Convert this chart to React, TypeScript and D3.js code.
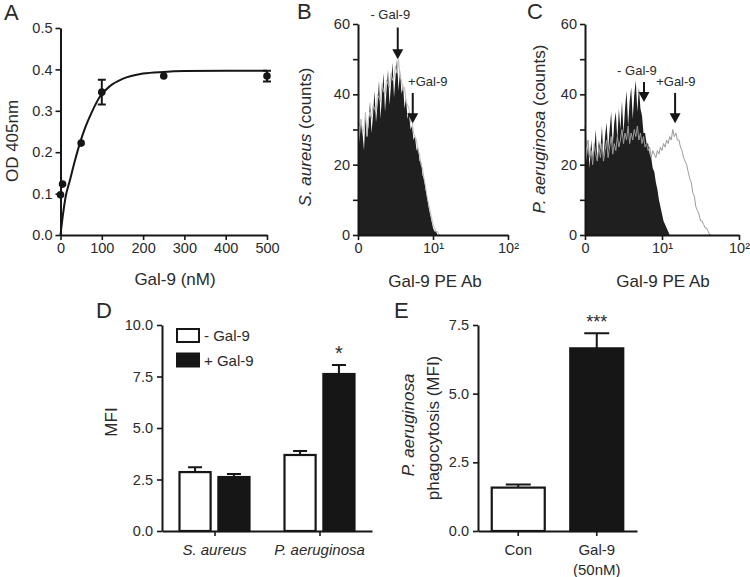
import React, { useEffect, useRef } from 'react';
import * as d3 from 'd3';

// ---- Panel A: binding curve ----
const doseNm = [0, 5, 50, 100, 250, 500];
const odMean = [0.097, 0.123, 0.222, 0.345, 0.384, 0.384];
const odErr = [0, 0, 0, 0.03, 0, 0.013];
// fitted curve
const fitNm = [0, 6, 12, 23, 35, 47, 60, 75, 96, 120, 150, 200, 250, 300, 400, 500];
const fitOd = [0, 0.05, 0.09, 0.133, 0.18, 0.222, 0.26, 0.295, 0.335, 0.36, 0.377, 0.39, 0.394, 0.396, 0.397, 0.397];

// ---- Panels B/C: flow histograms (counts per channel, channel step in log10 units) ----
const histStep = 0.02;
const saMinus = [35, 26, 33, 29, 24, 34, 28, 31, 38, 29, 34, 41, 32, 37, 44, 33, 40, 46, 35, 41, 47, 37, 43, 49, 39, 45, 50, 41, 47, 40, 43, 36, 39, 33, 35, 30, 31, 27, 28, 24, 25, 21, 21, 17, 16, 13, 11, 8, 6, 4, 2, 1, 1, 0, 0, 0];
const saPlus = [32, 31, 33, 29, 30, 35, 28, 33, 35, 33, 37, 36, 35, 40, 39, 38, 43, 41, 40, 44, 43, 42, 46, 44, 45, 48, 46, 50, 45, 44, 41, 42, 38, 37, 36, 32, 33, 29, 28, 27, 24, 23, 20, 19, 16, 14, 11, 9, 7, 5, 3, 2, 1, 1, 0, 0];
const paMinus = [28, 21, 26, 19, 27, 22, 24, 30, 21, 27, 24, 31, 22, 28, 32, 24, 30, 35, 25, 32, 35, 27, 36, 30, 38, 29, 36, 41, 31, 38, 42, 33, 40, 44, 35, 42, 36, 34, 29, 29, 26, 26, 23, 22, 19, 18, 15, 13, 10, 8, 6, 4, 3, 2, 1, 0];
const paPlus = [31, 25, 27, 22, 24, 20, 26, 23, 21, 25, 22, 26, 21, 24, 27, 22, 25, 28, 23, 26, 24, 28, 25, 27, 30, 26, 29, 27, 31, 26, 29, 27, 30, 28, 31, 27, 29, 26, 28, 25, 26, 24, 25, 22, 24, 23, 22, 24, 23, 25, 24, 26, 25, 27, 26, 28, 27, 30, 28, 29, 27, 27, 25, 24, 22, 21, 20, 18, 16, 15, 12, 11, 8, 7, 6, 4, 4, 3, 2, 2, 1, 0, 0];

// arrows: label position (log10 channel), arrow position, shaft top / tip in counts, label baseline in counts
const saArrows = [
  { label: '- Gal-9', labelLog: 0.43, log: 0.53, top: 59, tip: 50, textY: 61.3 },
  { label: '+Gal-9', labelLog: 0.93, log: 0.73, top: 40.4, tip: 31.8, textY: 42.4 },
];
const paArrows = [
  { label: '- Gal-9', labelLog: 0.675, log: 0.766, top: 43.5, tip: 37.8, textY: 45.5 },
  { label: '+Gal-9', labelLog: 1.18, log: 1.17, top: 40.4, tip: 31.8, textY: 42.4 },
];

// ---- Panel D ----
const dGroups = ['S. aureus', 'P. aeruginosa'];
const dSeries = ['- Gal-9', '+ Gal-9'];
const mfiMinus = [2.86, 3.69];
const mfiMinusErr = [0.24, 0.19];
const mfiPlus = [2.62, 7.62];
const mfiPlusErr = [0.15, 0.44];

// ---- Panel E ----
const eGroups = ['Con', 'Gal-9'];
const eTickLines = [['Con'], ['Gal-9', '(50nM)']];
const eValues = [1.58, 6.65];
const eErr = [0.11, 0.55];

const FONT = "'Liberation Sans', Arial, Helvetica, sans-serif";
const INK = '#161616';
const TXT = '#2a2a2a';

export default function App() {
  const ref = useRef<SVGSVGElement>(null);

  useEffect(() => {
    if (!ref.current) return;
    const svg = d3.select(ref.current);
    svg.selectAll('*').remove();

    const styleAxis = (g: any) => {
      g.attr('font-family', FONT).attr('font-size', 14.5).attr('color', INK);
      g.select('.domain').attr('stroke-width', 2);
      g.selectAll('.tick line').attr('stroke-width', 1.6);
      g.selectAll('.tick text').attr('fill', TXT);
    };

    const text = (x: number, y: number, s: string, size: number, anchor = 'middle', rotate = false) =>
      svg.append('text')
        .attr('transform', rotate ? `translate(${x},${y}) rotate(-90)` : `translate(${x},${y})`)
        .attr('text-anchor', anchor)
        .attr('font-family', FONT)
        .attr('font-size', size)
        .attr('fill', TXT)
        .text(s);

    // panel letters
    [['A', 4, 20], ['B', 297, 19], ['C', 527, 19], ['D', 96, 318], ['E', 394, 318]].forEach(([l, x, y]) =>
      text(x as number, y as number, l as string, 22, 'start'));

    // ================= A =================
    const xA = d3.scaleLinear().domain([0, 500]).range([60.5, 267]);
    const yA = d3.scaleLinear().domain([0, 0.5]).range([235, 28]);
    svg.append('g').attr('transform', 'translate(0,235)')
      .call(d3.axisBottom(xA).tickValues([0, 100, 200, 300, 400, 500]).tickSize(5).tickSizeOuter(0).tickPadding(3))
      .call(styleAxis);
    svg.append('g').attr('transform', 'translate(60.5,0)')
      .call(d3.axisLeft(yA).tickValues([0, 0.1, 0.2, 0.3, 0.4, 0.5]).tickFormat(d3.format('.1f')).tickSize(5).tickSizeOuter(0).tickPadding(3))
      .call(styleAxis);
    text(17.5, 141, 'OD 405nm', 17, 'middle', true);
    text(175, 285, 'Gal-9 (nM)', 17);

    svg.append('path')
      .datum(fitNm.map((n, i) => [n, fitOd[i]] as [number, number]))
      .attr('fill', 'none').attr('stroke', INK).attr('stroke-width', 2)
      .attr('d', d3.line().x(d => xA(d[0])).y(d => yA(d[1])).curve(d3.curveMonotoneX));

    doseNm.forEach((n, i) => {
      if (odErr[i] > 0) {
        const cx = xA(n);
        svg.append('path')
          .attr('d', `M${cx},${yA(odMean[i] - odErr[i])}V${yA(odMean[i] + odErr[i])}M${cx - 4},${yA(odMean[i] - odErr[i])}h8M${cx - 4},${yA(odMean[i] + odErr[i])}h8`)
          .attr('stroke', INK).attr('stroke-width', 2).attr('fill', 'none');
      }
      svg.append('circle').attr('cx', xA(n)).attr('cy', yA(odMean[i])).attr('r', 3.8).attr('fill', INK);
    });

    // ================= B / C =================
    const histPanel = (x0: number, x1: number, minus: number[], plus: number[], plusColor: string, arrows: any[], yTitleX: number, yTitleY: number, italic: string, xTitleX: number) => {
      const x = d3.scaleLog().domain([1, 100]).range([x0, x1]);
      const y = d3.scaleLinear().domain([0, 60]).range([235, 24]);
      const chan = (i: number) => x(Math.pow(10, i * histStep));

      svg.append('path').datum(minus)
        .attr('fill', '#1f1f1f')
        .attr('d', d3.area<number>().x((_, i) => chan(i)).y0(y(0)).y1(d => y(d)));
      svg.append('path').datum(plus)
        .attr('fill', 'none').attr('stroke', plusColor).attr('stroke-width', 1)
        .attr('d', d3.line<number>().x((_, i) => chan(i)).y(d => y(d)));

      svg.append('g').attr('transform', 'translate(0,235)')
        .call(d3.axisBottom(x).tickValues([1, 10, 100]).tickFormat((d: any) => (d === 1 ? '0' : d === 10 ? '10¹' : '10²')).tickSize(5).tickSizeOuter(0).tickPadding(3))
        .call(styleAxis);
      svg.append('g').attr('transform', `translate(${x0},0)`)
        .call(d3.axisLeft(y).tickValues([0, 10, 20, 30, 40, 50, 60]).tickFormat((d: any) => (d % 20 === 0 ? String(d) : '')).tickSize(5).tickSizeOuter(0).tickPadding(3))
        .call(styleAxis);

      arrows.forEach(a => {
        const ax = x(Math.pow(10, a.log));
        svg.append('line').attr('x1', ax).attr('x2', ax).attr('y1', y(a.top)).attr('y2', y(a.tip) - 8)
          .attr('stroke', INK).attr('stroke-width', 2);
        svg.append('path').attr('d', `M${ax - 5.5},${y(a.tip) - 10}L${ax + 5.5},${y(a.tip) - 10}L${ax},${y(a.tip)}Z`).attr('fill', INK);
        text(x(Math.pow(10, a.labelLog)), y(a.textY), a.label, 13);
      });

      const t = svg.append('text')
        .attr('transform', `translate(${yTitleX},${yTitleY}) rotate(-90)`)
        .attr('text-anchor', 'middle').attr('font-family', FONT).attr('font-size', 17).attr('fill', TXT);
      t.append('tspan').attr('font-style', 'italic').text(italic);
      t.append('tspan').text(' (counts)');
      text(xTitleX, 287, 'Gal-9 PE Ab', 17);
    };
    histPanel(358, 508, saMinus, saPlus, '#bdbdbd', saArrows, 311, 137, 'S. aureus', 435);
    histPanel(585, 739, paMinus, paPlus, '#9c9c9c', paArrows, 545, 129, 'P. aeruginosa', 663);

    // ================= D =================
    const xD = d3.scalePoint().domain(dGroups).range([162, 372]).padding(0.5);
    const sub = d3.scaleBand().domain(dSeries).range([-35, 35]).paddingInner(0.2);
    const yD = d3.scaleLinear().domain([0, 10]).range([531, 325]);
    const dBars = [
      { s: dSeries[0], v: mfiMinus, e: mfiMinusErr, fill: '#fff' },
      { s: dSeries[1], v: mfiPlus, e: mfiPlusErr, fill: INK },
    ];
    dBars.forEach(b => {
      dGroups.forEach((g, i) => {
        const bx = xD(g)! + sub(b.s)!;
        const cx = bx + sub.bandwidth() / 2;
        svg.append('path').attr('d', `M${cx},${yD(b.v[i])}V${yD(b.v[i] + b.e[i])}M${cx - 7},${yD(b.v[i] + b.e[i])}h14`)
          .attr('stroke', INK).attr('stroke-width', 2);
        svg.append('rect').attr('x', bx).attr('y', yD(b.v[i])).attr('width', sub.bandwidth()).attr('height', yD(0) - yD(b.v[i]))
          .attr('fill', b.fill).attr('stroke', INK).attr('stroke-width', 2.2);
      });
    });
    svg.append('g').attr('transform', 'translate(0,531)')
      .call(d3.axisBottom(xD).tickSize(5).tickSizeOuter(0).tickFormat(() => ''))
      .call(styleAxis);
    dGroups.forEach(g => {
      text(xD(g)!, 555, g, 15).attr('font-style', 'italic');
    });
    svg.append('g').attr('transform', 'translate(162,0)')
      .call(d3.axisLeft(yD).tickValues([0, 2.5, 5, 7.5, 10]).tickFormat(d3.format('.1f')).tickSize(5).tickSizeOuter(0).tickPadding(4))
      .call(styleAxis);
    text(117, 422, 'MFI', 17, 'middle', true);
    // significance
    text(xD(dGroups[1])! + sub(dSeries[1])! + sub.bandwidth() / 2, yD(mfiPlus[1] + mfiPlusErr[1]) - 5, '*', 20);
    // legend
    dBars.forEach((b, i) => {
      svg.append('rect').attr('x', 177).attr('y', 329 + i * 24.5).attr('width', 22).attr('height', 13)
        .attr('fill', b.fill).attr('stroke', INK).attr('stroke-width', 2);
      text(204, 341 + i * 24.5, b.s, 15, 'start');
    });

    // ================= E =================
    const xE = d3.scaleBand().domain(eGroups).range([478, 637]).paddingInner(0.325).paddingOuter(0.175);
    const yE = d3.scaleLinear().domain([0, 7.5]).range([531, 325]);
    eGroups.forEach((g, i) => {
      const cx = xE(g)! + xE.bandwidth() / 2;
      svg.append('path').attr('d', `M${cx},${yE(eValues[i])}V${yE(eValues[i] + eErr[i])}M${cx - 12.5},${yE(eValues[i] + eErr[i])}h25`)
        .attr('stroke', INK).attr('stroke-width', 2);
      svg.append('rect').attr('x', xE(g)!).attr('y', yE(eValues[i])).attr('width', xE.bandwidth()).attr('height', yE(0) - yE(eValues[i]))
        .attr('fill', i === 0 ? '#fff' : INK).attr('stroke', INK).attr('stroke-width', 2.2);
    });
    svg.append('g').attr('transform', 'translate(0,531)')
      .call(d3.axisBottom(xE).tickSize(5).tickSizeOuter(0).tickFormat(() => ''))
      .call(styleAxis);
    eGroups.forEach((g, i) => {
      eTickLines[i].forEach((l, j) => text(xE(g)! + xE.bandwidth() / 2, 555 + j * 20, l, 15));
    });
    svg.append('g').attr('transform', 'translate(478,0)')
      .call(d3.axisLeft(yE).tickValues([0, 2.5, 5, 7.5]).tickFormat(d3.format('.1f')).tickSize(5).tickSizeOuter(0).tickPadding(4))
      .call(styleAxis);
    text(414, 425, 'P. aeruginosa', 17, 'middle', true).attr('font-style', 'italic');
    text(439, 428, 'phagocytosis (MFI)', 17, 'middle', true);
    text(xE(eGroups[1])! + xE.bandwidth() / 2, yE(eValues[1] + eErr[1]) - 5, '***', 18);
  }, []);

  return (
    <svg ref={ref} width={750} height={577}
      style={{ position: 'absolute', left: 0, top: 0, background: '#fff' }} />
  );
}
